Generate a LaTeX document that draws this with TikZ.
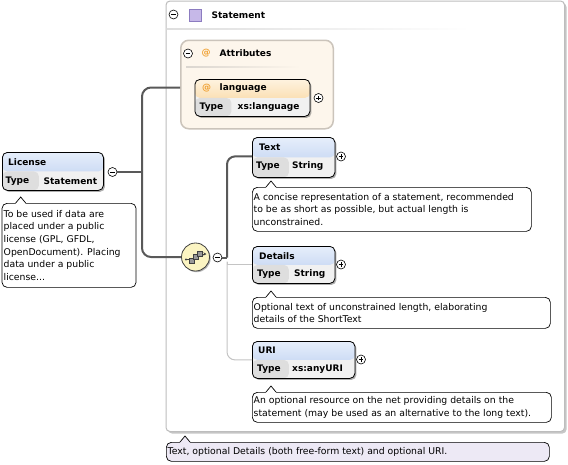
\documentclass[tikz,border=0pt]{standalone}
\usepackage{fontspec}
\setmainfont{DejaVu Sans}
\usetikzlibrary{shadows,calc,arrows.meta}
\definecolor{hdrtop}{HTML}{E6EEFB}
\definecolor{hdrbot}{HTML}{B6CBEE}
\definecolor{atop}{HTML}{FEF3DF}
\definecolor{abot}{HTML}{F8CD8C}
\definecolor{typec}{HTML}{DEDEDE}
\definecolor{valc}{HTML}{F1F1F1}
\definecolor{attrfill}{HTML}{FDF6EC}
\definecolor{attrdraw}{HTML}{CBC4BB}
\definecolor{stmdraw}{HTML}{BDBDBD}
\definecolor{lav}{HTML}{EDE9F5}
\definecolor{seqfill}{HTML}{FBF4C2}
\definecolor{orng}{HTML}{F0A030}
\definecolor{purp}{HTML}{C6B8E8}
\definecolor{purpd}{HTML}{8C7CC0}
\definecolor{connc}{HTML}{595959}
\definecolor{lconnc}{HTML}{C4C4C4}
\newcommand\annof{\fontsize{9.3}{12.6}\selectfont}
\newcommand\nmf{\bfseries\fontsize{9}{10}\selectfont}
\newcommand\mknotch[2]{%
 \fill[#2] ([xshift=14pt,yshift=-0.8pt]#1.north west) -- ([xshift=19pt,yshift=6pt]#1.north west) -- ([xshift=24pt,yshift=-0.8pt]#1.north west) -- cycle;
 \draw[line width=0.7pt] ([xshift=14pt]#1.north west) -- ([xshift=19pt,yshift=6pt]#1.north west) -- ([xshift=24pt]#1.north west);}
\begin{document}
\begin{tikzpicture}[x=1pt,y=-1pt,
 hdrshade/.style={top color=hdrtop,bottom color=hdrbot},
 elem/.style={draw=black, line width=0.8pt, rounded corners=5pt, fill=valc, inner sep=0pt, anchor=north west,
   drop shadow={shadow xshift=1.5pt, shadow yshift=-1.5pt, opacity=0.45, fill=black!70},
   path picture={
     \shade[hdrshade] (path picture bounding box.north west) rectangle (path picture bounding box.east);
     \fill[typec] (path picture bounding box.west) rectangle ([xshift=36.5pt]path picture bounding box.south west);
   }},
 pm/.style={circle, draw=black, fill=white, minimum size=9pt, inner sep=0pt, line width=0.6pt},
 minus/.style={path picture={\draw[line width=0.8pt] ([xshift=-2.4pt]path picture bounding box.center) -- ([xshift=2.4pt]path picture bounding box.center);}},
 plus/.style={path picture={\draw[line width=0.8pt] ([xshift=-2.4pt]path picture bounding box.center) -- ([xshift=2.4pt]path picture bounding box.center) ([yshift=-2.4pt]path picture bounding box.center) -- ([yshift=2.4pt]path picture bounding box.center);}},
 nm/.style={font=\nmf, anchor=west, inner sep=0pt},
 atsign/.style={font=\nmf, text=orng, inner sep=0pt},
 annobox/.style={draw=black, line width=0.7pt, rounded corners=5pt, fill=white, anchor=north west, inner sep=0pt},
 annotxt/.style={font=\annof, align=left, anchor=west, inner sep=0pt},
 dconn/.style={draw=connc, line width=2pt},
 lconn/.style={draw=lconnc, line width=1pt},
 stmtbox/.style={draw=stmdraw, line width=1pt, rounded corners=4pt, fill=white, anchor=north west, inner sep=0pt,
   drop shadow={shadow xshift=2pt, shadow yshift=-2pt, opacity=1, fill=black!22}},
 attrbox/.style={draw=attrdraw, line width=1.5pt, rounded corners=8pt, fill=attrfill, anchor=north west, inner sep=0pt},
 seqn/.style={circle, draw=black!75, line width=0.8pt, fill=seqfill, minimum size=28pt, inner sep=0pt,
   drop shadow={shadow xshift=1.2pt, shadow yshift=-1.2pt, opacity=0.4, fill=black!70}}
]
\useasboundingbox (0,0) rectangle (568,464);
\fill[white] (0,0) rectangle (568,464);

% Statement container
\node[stmtbox, minimum width=398.5pt, minimum height=430.5pt] (stmt) at (165.5,0.5) {};
\node[pm, minus] (stm-m) at (173.5,14.5) {};
\node[draw=purpd, fill=purp, minimum size=12pt, inner sep=0pt, line width=0.6pt] (stm-sq) at (195.5,15) {};
\node[nm] (stm-t) at (211.5,15) {Statement};
\shade[left color=black!13, right color=white] (166.5,28) rectangle (470,29.5);

% Attributes
\node[attrbox, minimum width=152.5pt, minimum height=88.5pt] (attr) at (180,39.5) {};
\node[pm, minus] (attr-m) at (188,53.5) {};
\node[atsign] (attr-at) at (206,53) {@};
\node[nm] (attr-t) at (219.5,53.5) {Attributes};
\shade[left color=attrdraw!70, right color=attrfill] (186,66) rectangle (300,67.5);

\node[elem, hdrshade/.style={top color=atop,bottom color=abot}, minimum width=115pt, minimum height=37pt] (lang) at (194.5,79) {};
\node[atsign] (lang-at) at (206.5,88.5) {@};
\node[nm] (lang-n) at (219.5,88.5) {language};
\node[nm] (lang-ty) at (199.5,107.5) {Type};
\node[nm] (lang-v) at (237.5,107.5) {xs:language};
\node[pm, plus] (lang-p) at (318.5,98) {};

% License
\node[elem, minimum width=101pt, minimum height=38pt] (lic) at (2,152) {};
\node[nm] (lic-n) at (8,162.5) {License};
\node[nm] (lic-ty) at (5.5,181.5) {Type};
\node[nm] (lic-v) at (43.5,181.5) {Statement};
\node[pm, minus] (lic-m) at (112.5,172) {};
\node[annobox, minimum width=134pt, minimum height=84pt] (lic-a) at (1.7,203) {};
\mknotch{lic-a}{white}
\node[annotxt] (lic-at) at ([xshift=1.8pt]lic-a.west) {To be used if data are\\placed under a public\\license (GPL, GFDL,\\OpenDocument). Placing\\data under a public\\license...};

% Sequence
\node[seqn] (seq) at (195.5,257) {};
\begin{scope}[shift={(seq.center)}]
 \draw[black!75, line width=0.7pt] (-9.5,2.5) -- (-5,2.5);
 \fill[black!75] (-9.5,2.5) circle (1.2);
 \draw[black!75, line width=0.7pt, -{Stealth[length=3pt,width=3pt]}] (5,-3) -- (11,-3);
 \draw[black!75, line width=0.6pt, fill=black!40] (-6.5,1) rectangle (-1.5,6);
 \draw[black!75, line width=0.6pt, fill=black!40] (-2.5,-2.5) rectangle (2.5,2.5);
 \draw[black!75, line width=0.6pt, fill=black!40] (1.5,-6) rectangle (6.5,-1);
\end{scope}
\node[pm, minus] (seq-m) at (217.5,257.5) {};

% Text
\node[elem, minimum width=82.5pt, minimum height=40pt] (txt) at (252,137) {};
\node[nm] (txt-n) at (259,147) {Text};
\node[nm] (txt-ty) at (256,166.5) {Type};
\node[nm] (txt-v) at (292,166.5) {String};
\node[pm, plus] (txt-p) at (341,156.5) {};
\node[annobox, minimum width=279pt, minimum height=44pt] (txt-a) at (252,187) {};
\mknotch{txt-a}{white}
\node[annotxt] (txt-at) at ([xshift=1.5pt]txt-a.west) {A concise representation of a statement, recommended\\to be as short as possible, but actual length is\\unconstrained.};

% Details
\node[elem, minimum width=82.5pt, minimum height=37pt] (det) at (252,246) {};
\node[nm] (det-n) at (259,255.7) {Details};
\node[nm] (det-ty) at (257,274) {Type};
\node[nm] (det-v) at (294,274) {String};
\node[pm, plus] (det-p) at (341,264.5) {};
\node[annobox, minimum width=298pt, minimum height=31pt] (det-a) at (252,297) {};
\mknotch{det-a}{white}
\node[annotxt] (det-at) at ([xshift=1.5pt]det-a.west) {Optional text of unconstrained length, elaborating\\details of the ShortText};

% URI
\node[elem, minimum width=102.5pt, minimum height=37pt] (uri) at (252,341) {};
\node[nm] (uri-n) at (258,350.7) {URI};
\node[nm] (uri-ty) at (257,369) {Type};
\node[nm] (uri-v) at (292,369) {xs:anyURI};
\node[pm, plus] (uri-p) at (361,359.5) {};
\node[annobox, minimum width=299pt, minimum height=30pt] (uri-a) at (252,392) {};
\mknotch{uri-a}{white}
\node[annotxt] (uri-at) at ([xshift=1.5pt]uri-a.west) {An optional resource on the net providing details on the\\statement (may be used as an alternative to the long text).};

% Statement annotation
\node[annobox, fill=lav, minimum width=383pt, minimum height=19pt] (stm-a) at (166,442) {};
\mknotch{stm-a}{lav}
\node[annotxt] (stm-at) at ([xshift=1.5pt]stm-a.west) {Text, optional Details (both free-form text) and optional URI.};

% Connectors
\coordinate (junc) at (142,172);
\coordinate (split) at (227,257.5);
\draw[dconn] (lic-m) -- (junc);
\draw[dconn, rounded corners=9pt] ([yshift=-3pt]attr.west) -| (junc) |- (seq);
\draw[dconn] (seq-m) -- (split);
\draw[dconn, rounded corners=8pt] (split) |- ([yshift=1pt]txt.west);
\draw[lconn] ([yshift=-4pt]split) |- (det.west);
\draw[lconn, rounded corners=8pt] ([yshift=-4pt]split) |- (uri.west);
\end{tikzpicture}
\end{document}
